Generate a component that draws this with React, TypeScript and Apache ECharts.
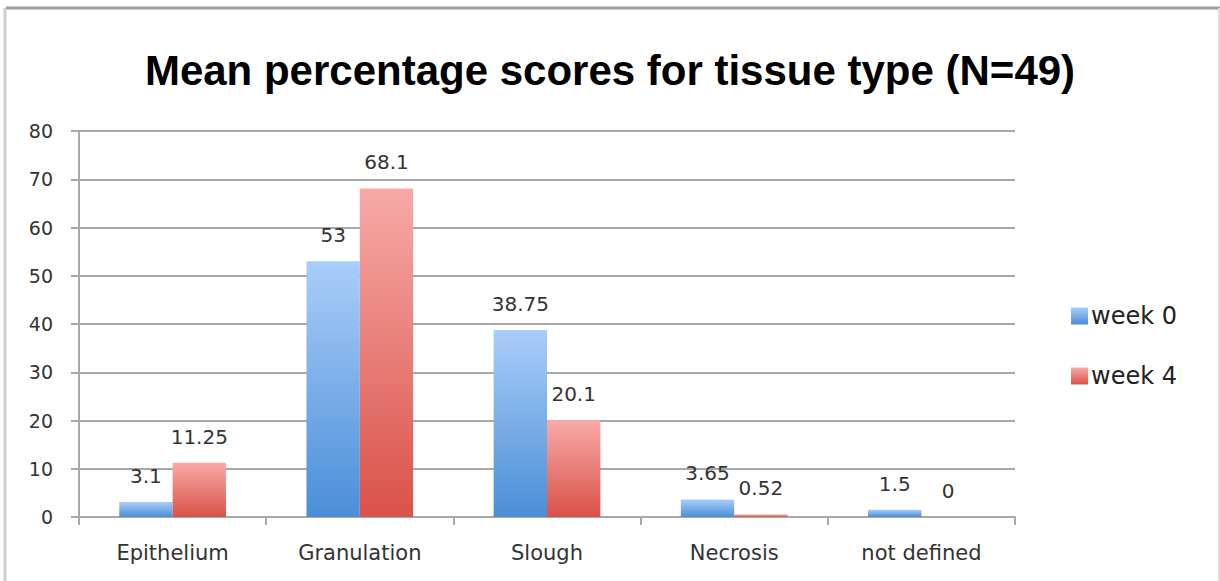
import React, { useEffect, useRef } from "react";
import * as echarts from "echarts";

const categories = ["Epithelium", "Granulation", "Slough", "Necrosis", "not defined"];
const week0 = [3.1, 53, 38.75, 3.65, 1.5];
const week4 = [11.25, 68.1, 20.1, 0.52, 0];
const seriesNames = ["week 0", "week 4"];
const titleText = "Mean percentage scores for tissue type (N=49)";

const FONT = "DejaVu Sans";

const blueGrad = () =>
  new echarts.graphic.LinearGradient(0, 0, 0, 1, [
    { offset: 0, color: "#aacdf9" },
    { offset: 1, color: "#4a8ed8" },
  ]);
const redGrad = () =>
  new echarts.graphic.LinearGradient(0, 0, 0, 1, [
    { offset: 0, color: "#f8aaa8" },
    { offset: 1, color: "#da5249" },
  ]);

export default function App() {
  const ref = useRef<HTMLDivElement>(null);
  useEffect(() => {
    document.body.style.margin = "0";
    const chart = echarts.init(ref.current!, null, { renderer: "svg" });
    const labelStyle = {
      show: true,
      position: "top",
      distance: 16,
      fontSize: 20,
      color: "#333",
      fontFamily: FONT,
    };
    chart.setOption({
      animation: false,
      backgroundColor: "#fff",
      title: {
        text: titleText,
        left: "center",
        top: 44,
        textStyle: {
          fontFamily: "Liberation Sans",
          fontWeight: "bold",
          fontSize: 42,
          color: "#000",
        },
      },
      legend: {
        orient: "vertical",
        left: 1066,
        top: 299,
        itemWidth: 17,
        itemHeight: 17,
        itemGap: 36,
        icon: "rect",
        data: seriesNames,
        textStyle: { fontSize: 24, color: "#222", fontFamily: FONT, padding: [0, 0, 0, -2] },
      },
      grid: { left: 79, right: 205, top: 131, bottom: 64 },
      xAxis: {
        type: "category",
        data: categories,
        axisLine: { lineStyle: { color: "#a8a8a8", width: 2 } },
        axisTick: { show: true, length: 8, lineStyle: { color: "#a8a8a8", width: 2 } },
        axisLabel: { fontSize: 21, color: "#333", margin: 25, fontFamily: FONT },
      },
      yAxis: {
        type: "value",
        min: 0,
        max: 80,
        interval: 10,
        axisLine: { show: true, lineStyle: { color: "#a8a8a8", width: 2 } },
        axisTick: { show: true, length: 8, lineStyle: { color: "#a8a8a8", width: 2 } },
        splitLine: { lineStyle: { color: "#a8a8a8", width: 2 } },
        axisLabel: { fontSize: 19, color: "#333", margin: 26, fontFamily: FONT },
      },
      series: [
        {
          name: seriesNames[0],
          type: "bar",
          data: week0,
          barGap: "0%",
          barCategoryGap: "43%",
          itemStyle: { color: blueGrad() },
          label: labelStyle,
        },
        {
          name: seriesNames[1],
          type: "bar",
          data: week4,
          barGap: "0%",
          barCategoryGap: "43%",
          itemStyle: { color: redGrad() },
          label: labelStyle,
        },
      ],
      graphic: [
        { type: "line", shape: { x1: 6, y1: 8, x2: 1220, y2: 8 }, style: { stroke: "#999", lineWidth: 3 } },
        { type: "line", shape: { x1: 5, y1: 8, x2: 5, y2: 581 }, style: { stroke: "#cfcfcf", lineWidth: 3 } },
        { type: "line", shape: { x1: 1219, y1: 8, x2: 1219, y2: 581 }, style: { stroke: "#dcdcdc", lineWidth: 2 } },
      ],
    });
    return () => chart.dispose();
  }, []);
  return <div ref={ref} style={{ width: 1220, height: 581 }} />;
}
